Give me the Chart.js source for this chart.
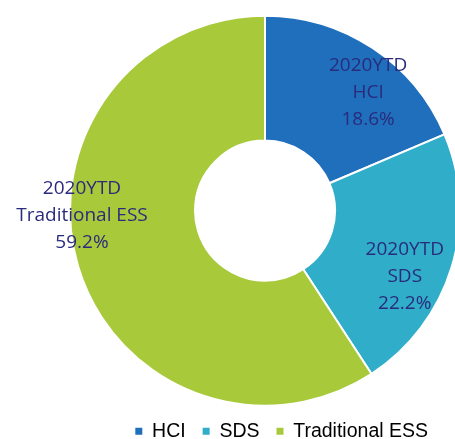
<!DOCTYPE html>
<html>
<head>
<meta charset="utf-8">
<script src="https://cdn.jsdelivr.net/npm/chart.js@4.4.1/dist/chart.umd.min.js"></script>
<style>
  html, body { margin: 0; padding: 0; background: #fff; overflow: hidden; }
  #wrap { position: relative; width: 455px; height: 451px; }
</style>
</head>
<body>
<div id="wrap"><canvas id="myChart"></canvas></div>
<script>
// data
const categories = ['HCI', 'SDS', 'Traditional ESS'];
const shares = [18.6, 22.2, 59.2];
const periodLabel = '2020YTD';
const sliceColors = ['#1f6fbd', '#2fadc9', '#a8c93a'];

// labels inside / next to each slice, shifted from the arc centre point
const sliceLabels = {
  id: 'sliceLabels',
  afterDatasetsDraw(chart, args, opts) {
    const ctx = chart.ctx;
    const arcs = chart.getDatasetMeta(0).data;
    ctx.save();
    ctx.font = '19px "Open Sans"';
    ctx.fillStyle = '#2a2b7c';
    ctx.textAlign = 'center';
    ctx.textBaseline = 'middle';
    arcs.forEach((arc, i) => {
      const p = arc.tooltipPosition();
      const off = opts.offsets[i];
      const x = p.x + off[0];
      const y = p.y + off[1];
      const lines = [periodLabel, categories[i], shares[i].toFixed(1) + '%'];
      lines.forEach((t, j) => ctx.fillText(t, x, y + (j - 1) * 27));
    });
    ctx.restore();
  }
};

window.onload = function() {
  var ctx = document.getElementById('myChart').getContext('2d');
  new Chart(ctx, {
    type: 'doughnut',
    data: {
      labels: categories,
      datasets: [{
        data: shares,
        backgroundColor: sliceColors,
        borderColor: '#ffffff',
        borderWidth: 2,
        clip: false,
      }],
    },
    options: {
      responsive: true,
      maintainAspectRatio: false,
      animation: false,
      radius: 195,
      cutout: '35.9%',
      layout: {
        padding: { left: 85, right: 10, top: 16.75, bottom: 0 },
      },
      plugins: {
        tooltip: { enabled: false },
        legend: {
          position: 'bottom',
          align: 'end',
          labels: {
            boxWidth: 7,
            boxHeight: 7,
            padding: 17,
            color: '#2d3c8e',
            font: { family: '"Liberation Sans", Arial, sans-serif', size: 19.5 },
            generateLabels(chart) {
              return categories.map((c, i) => ({
                text: c,
                fillStyle: sliceColors[i],
                strokeStyle: sliceColors[i],
                lineWidth: 0,
                hidden: false,
                index: i,
              }));
            },
          },
        },
        sliceLabels: {
          offsets: [[30, -8], [13, 27], [-56, -33]],
        },
      },
    },
    plugins: [sliceLabels],
  });
};
</script>
</body>
</html>
